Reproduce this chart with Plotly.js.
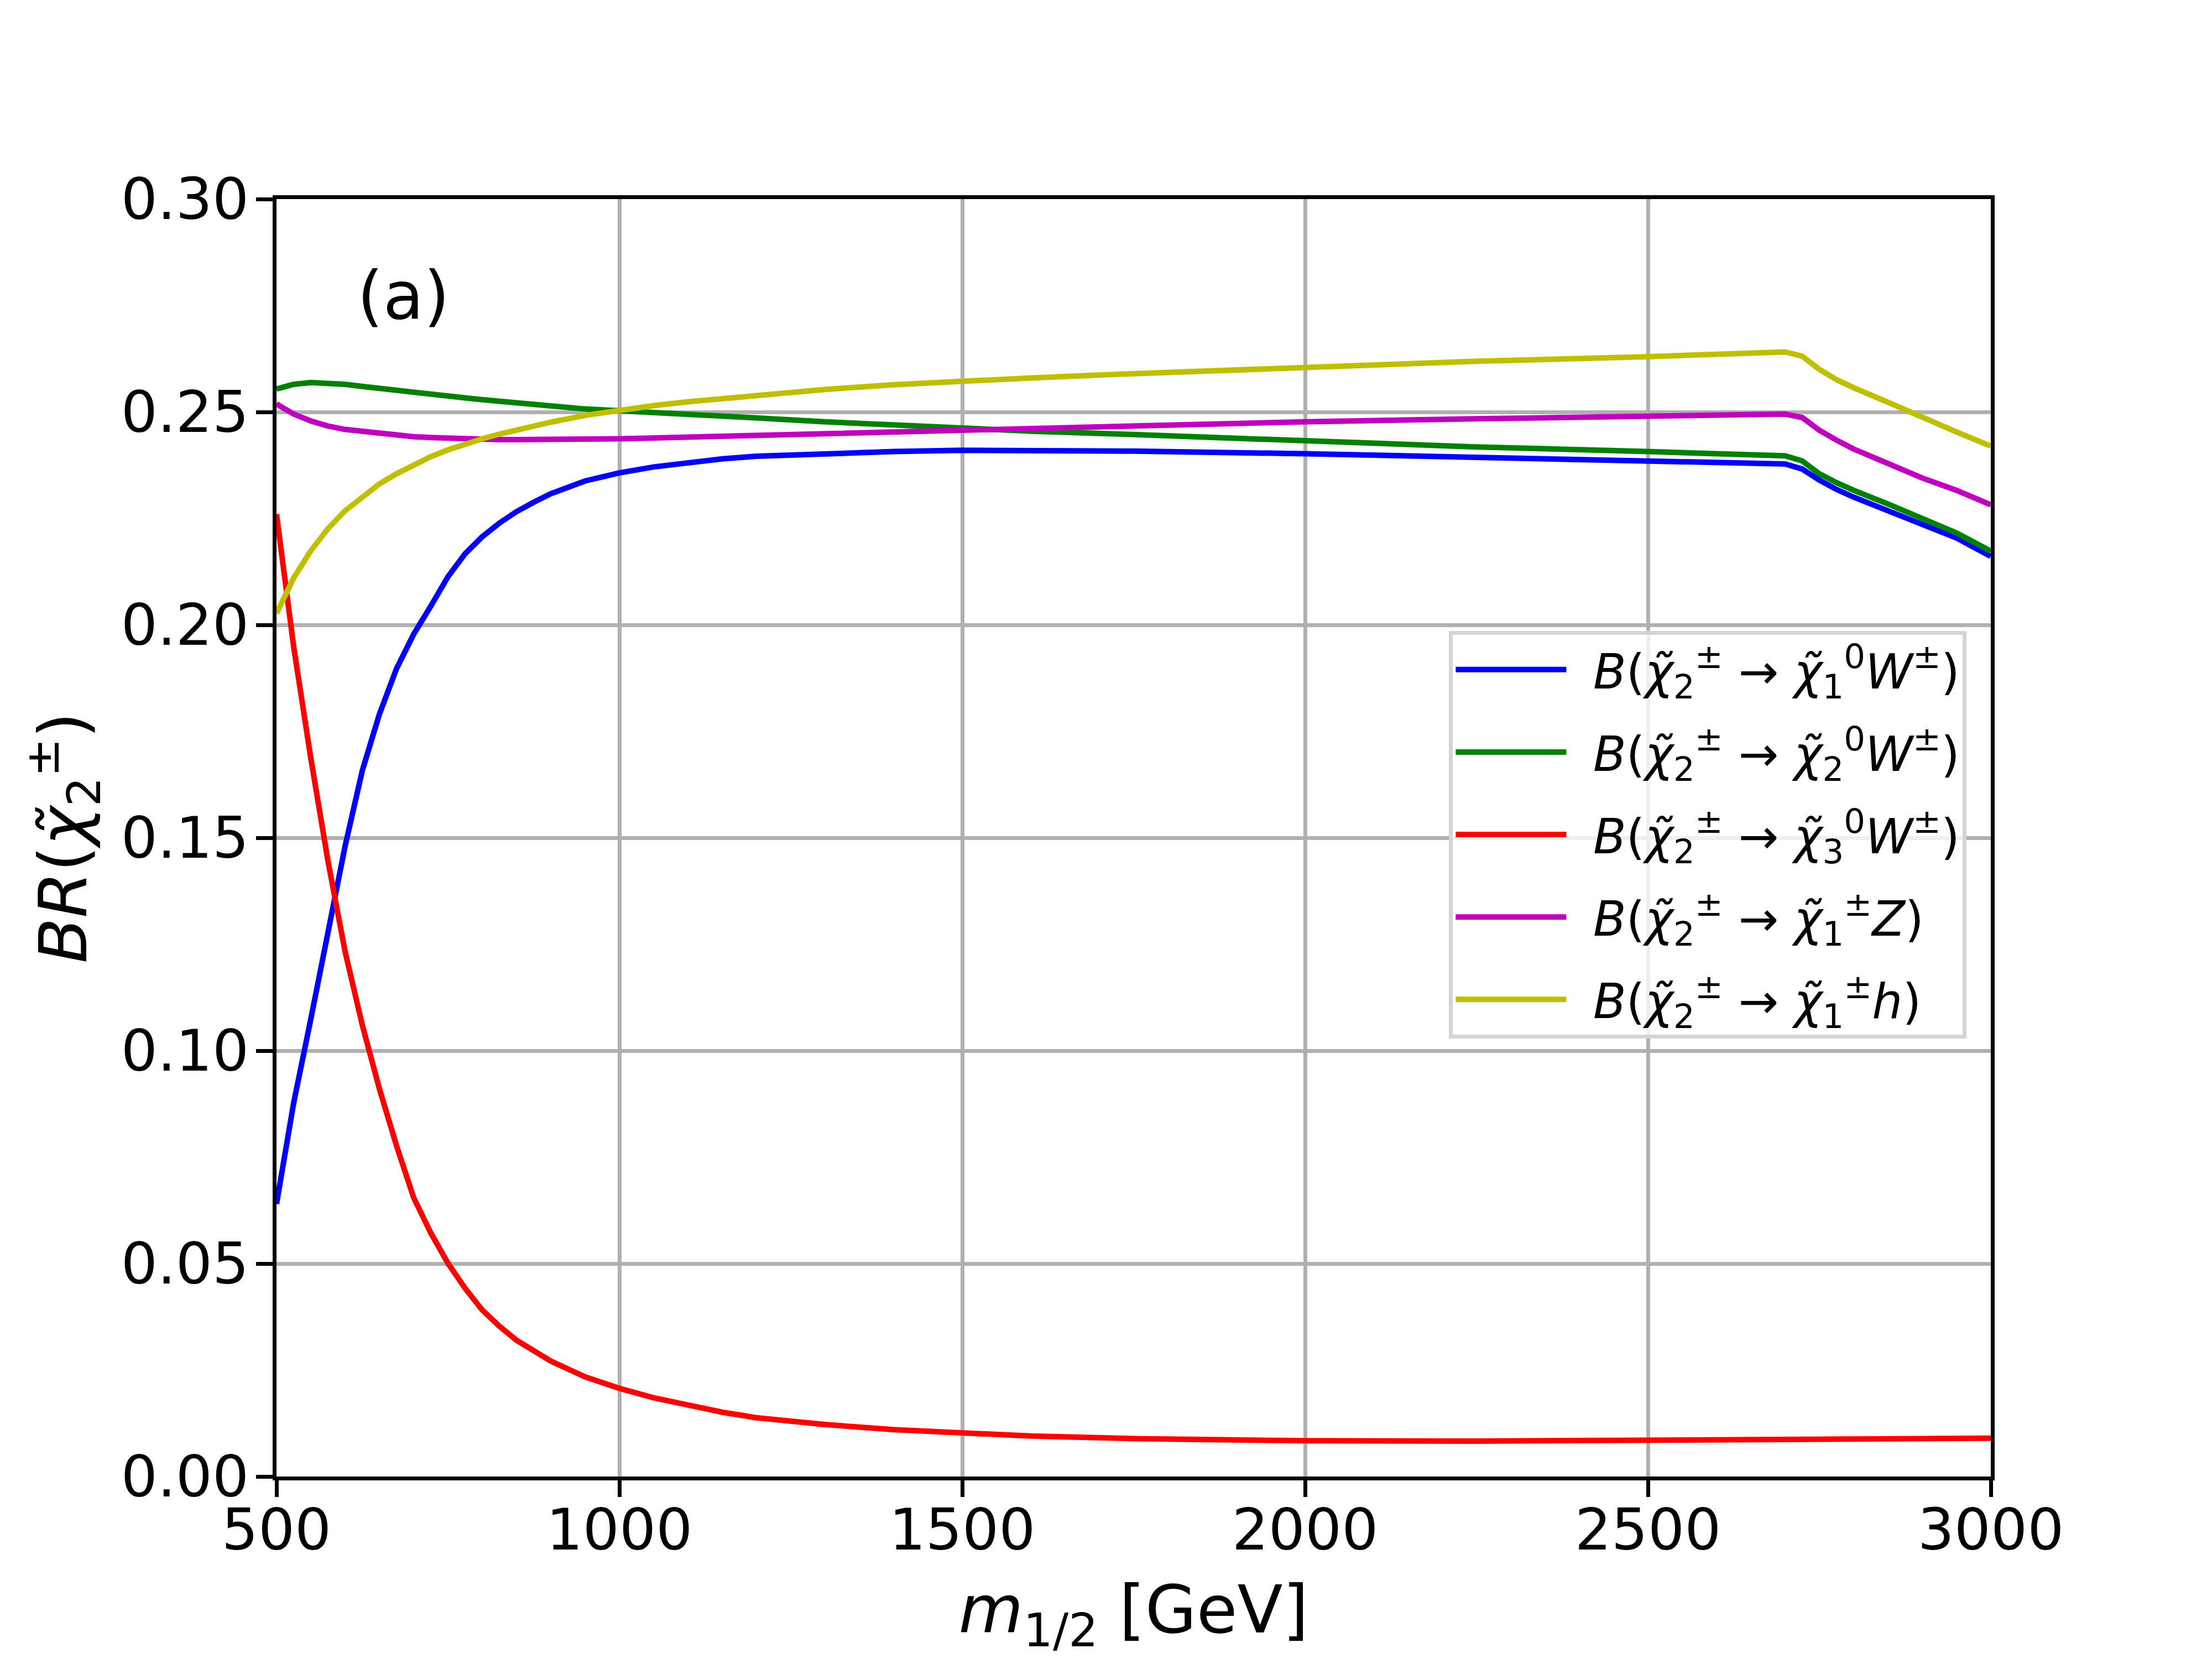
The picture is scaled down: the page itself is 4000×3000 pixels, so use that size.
<!DOCTYPE html>
<html>
<head>
<meta charset="utf-8">
<script src="https://cdn.plot.ly/plotly-3.0.1.min.js"></script>
<style>
  html, body { margin: 0; padding: 0; background: #ffffff; }
  #chart { width: 4000px; height: 3000px; }
</style>
</head>
<body>
<div id="chart"></div>
<script>
// m_1/2 grid [GeV]
const m12 = [500, 525, 550, 575, 600, 625, 650, 675, 700, 725, 750, 775, 800, 825, 850, 875,
             900, 950, 1000, 1050, 1100, 1150, 1200, 1300, 1400, 1500, 1600, 1750, 2000,
             2250, 2500, 2600, 2700, 2725, 2750, 2775, 2800, 2850, 2900, 2950, 3000];

// branching ratios
const brN1W = [0.0640, 0.0877, 0.1074, 0.1280, 0.1480, 0.1657, 0.1790, 0.1897, 0.1978, 0.2044,
               0.2113, 0.2167, 0.2207, 0.2239, 0.2266, 0.2288, 0.2308, 0.2338, 0.2357, 0.2371,
               0.2382, 0.2390, 0.2396, 0.2403, 0.2407, 0.2410, 0.2410, 0.2408, 0.2402, 0.2393,
               0.2386, 0.2383, 0.2378, 0.2366, 0.2340, 0.2318, 0.2300, 0.2268, 0.2236, 0.2204,
               0.2161];
const brN2W = [0.2554, 0.2565, 0.2569, 0.2568, 0.2565, 0.2560, 0.2555, 0.2550, 0.2545, 0.2541,
               0.2537, 0.2533, 0.2529, 0.2525, 0.2521, 0.2517, 0.2513, 0.2507, 0.2503, 0.2498,
               0.2494, 0.2490, 0.2486, 0.2477, 0.2469, 0.2461, 0.2455, 0.2447, 0.2432, 0.2418,
               0.2407, 0.2401, 0.2397, 0.2385, 0.2355, 0.2334, 0.2316, 0.2284, 0.2251, 0.2216,
               0.2173];
const brN3W = [0.2260, 0.1949, 0.1687, 0.1446, 0.1233, 0.1061, 0.0911, 0.0777, 0.0655, 0.0572,
               0.0501, 0.0442, 0.0391, 0.0353, 0.0320, 0.0294, 0.0271, 0.0234, 0.0207, 0.0185,
               0.0167, 0.0151, 0.0138, 0.0122, 0.0110, 0.0101, 0.0095, 0.0089, 0.0084, 0.0083,
               0.0085, 0.0087, 0.0089, 0.0090, 0.0090, 0.0090, 0.0090, 0.0090, 0.0090, 0.0090,
               0.0090];
const brC1Z = [0.2519, 0.2495, 0.2479, 0.2467, 0.2459, 0.2454, 0.2449, 0.2445, 0.2442, 0.2440,
               0.2438, 0.2437, 0.2436, 0.2435, 0.2435, 0.2435, 0.2435, 0.2436, 0.2437, 0.2439,
               0.2441, 0.2443, 0.2445, 0.2450, 0.2455, 0.2460, 0.2464, 0.2469, 0.2477, 0.2484,
               0.2490, 0.2493, 0.2495, 0.2487, 0.2457, 0.2434, 0.2413, 0.2379, 0.2345, 0.2316,
               0.2282];
const brC1h = [0.2027, 0.2110, 0.2174, 0.2226, 0.2268, 0.2300, 0.2331, 0.2355, 0.2376, 0.2395,
               0.2411, 0.2425, 0.2437, 0.2448, 0.2458, 0.2467, 0.2476, 0.2492, 0.2504, 0.2515,
               0.2524, 0.2532, 0.2539, 0.2553, 0.2564, 0.2573, 0.2580, 0.2590, 0.2606, 0.2619,
               0.2630, 0.2637, 0.2641, 0.2631, 0.2600, 0.2576, 0.2557, 0.2523, 0.2487, 0.2453,
               0.2420];

const chi = "<i>\u03C7\u0303</i>";
const names = [
  "<i>B</i>(" + chi + "<sub>2</sub><sup>\u00B1</sup> \u2192 " + chi + "<sub>1</sub><sup>0</sup><i>W</i><sup>\u00B1</sup>)",
  "<i>B</i>(" + chi + "<sub>2</sub><sup>\u00B1</sup> \u2192 " + chi + "<sub>2</sub><sup>0</sup><i>W</i><sup>\u00B1</sup>)",
  "<i>B</i>(" + chi + "<sub>2</sub><sup>\u00B1</sup> \u2192 " + chi + "<sub>3</sub><sup>0</sup><i>W</i><sup>\u00B1</sup>)",
  "<i>B</i>(" + chi + "<sub>2</sub><sup>\u00B1</sup> \u2192 " + chi + "<sub>1</sub><sup>\u00B1</sup><i>Z</i>)",
  "<i>B</i>(" + chi + "<sub>2</sub><sup>\u00B1</sup> \u2192 " + chi + "<sub>1</sub><sup>\u00B1</sup><i>h</i>)"
];
const series = [brN1W, brN2W, brN3W, brC1Z, brC1h];
const colors = ["#0000ff", "#008000", "#ff0000", "#bf00bf", "#bfbf00"];

const font = "DejaVu Sans, Liberation Sans, sans-serif";

const data = series.map((ys, i) => ({
  x: m12,
  y: ys,
  name: "\u2002" + names[i],
  legendgroup: "g" + i,
  mode: "lines",
  type: "scatter",
  line: { color: colors[i], width: 10 }
}));

const axisCommon = {
  showline: true,
  mirror: true,
  linecolor: "#000000",
  linewidth: 7,
  ticks: "outside",
  ticklen: 30,
  tickwidth: 7,
  tickcolor: "#000000",
  showgrid: true,
  gridcolor: "#b0b0b0",
  gridwidth: 7,
  zeroline: false,
  tickfont: { family: font, size: 104, color: "#000000" }
};

const layout = {
  width: 4000,
  height: 3000,
  paper_bgcolor: "#ffffff",
  plot_bgcolor: "#ffffff",
  margin: { l: 500, r: 400, t: 360, b: 330 },
  font: { family: font, color: "#000000" },
  xaxis: Object.assign({}, axisCommon, {
    range: [500, 3000],
    tick0: 500,
    dtick: 500,
    ticklabelstandoff: -30,
    title: { text: "<i>m</i><sub>1/2</sub> [GeV]", font: { family: font, size: 120 }, standoff: 45 }
  }),
  yaxis: Object.assign({}, axisCommon, {
    range: [0, 0.3],
    tick0: 0,
    dtick: 0.05,
    tickformat: ".2f",
    ticklabelstandoff: -8,
    title: { text: "<i>BR</i>(" + chi + "<sub>2</sub><sup>\u00B1</sup>)", font: { family: font, size: 120 }, standoff: 24 }
  }),
  legend: {
    x: 0.684,
    y: 0.662,
    xanchor: "left",
    yanchor: "top",
    bgcolor: "rgba(255,255,255,0.8)",
    bordercolor: "#d4d4d4",
    borderwidth: 7,
    font: { family: font, size: 87, color: "#000000" },
    tracegroupgap: 33,
    itemwidth: 200
  },
  annotations: [{
    text: "(a)",
    xref: "x",
    yref: "y",
    x: 616,
    y: 0.268,
    xanchor: "left",
    yanchor: "bottom",
    showarrow: false,
    font: { family: font, size: 120, color: "#000000" }
  }],
  showlegend: true
};

Plotly.newPlot("chart", data, layout, { displayModeBar: false, staticPlot: true });
</script>
</body>
</html>
